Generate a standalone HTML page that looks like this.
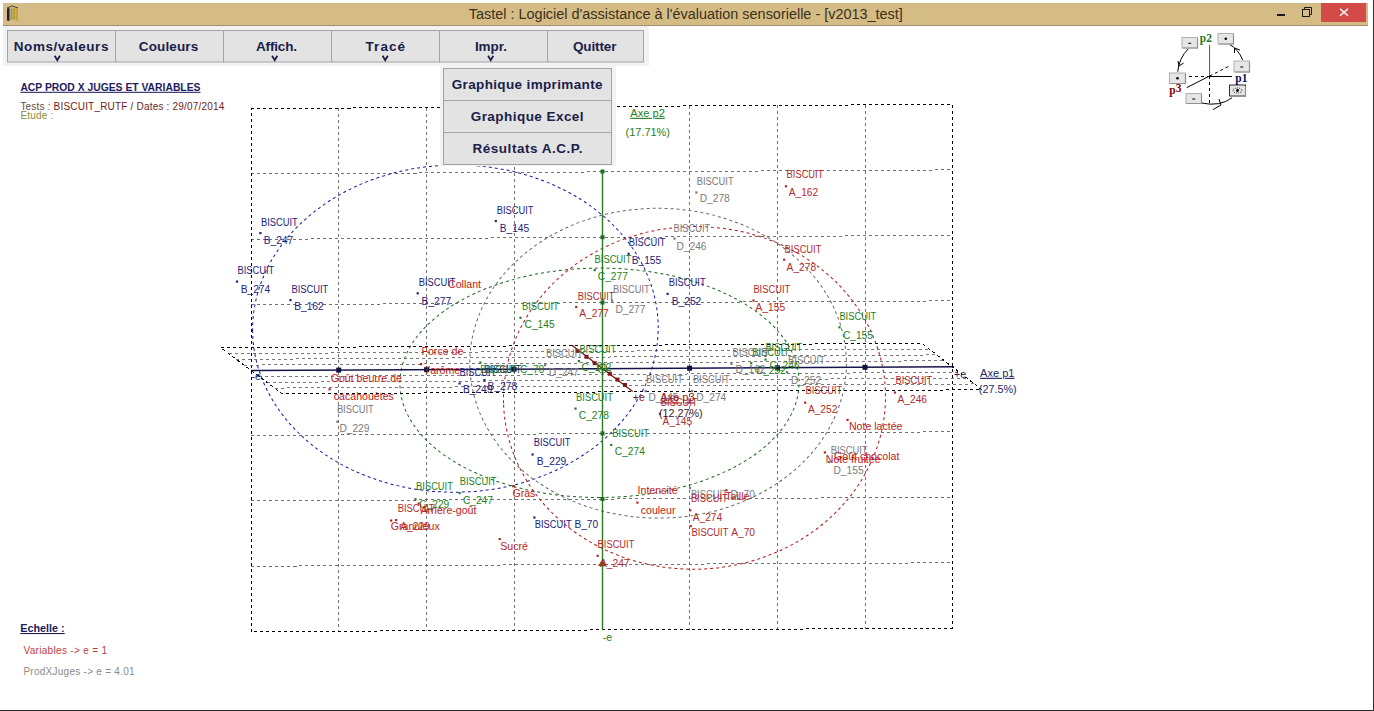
<!DOCTYPE html><html><head><meta charset="utf-8"><style>
html,body{margin:0;padding:0;background:#fff;overflow:hidden;width:1374px;height:711px}
svg{display:block}
text{white-space:pre}
</style></head><body>
<svg width="1374" height="711" viewBox="0 0 1374 711">
<rect x="0" y="0" width="1374" height="711" fill="#ffffff"/>
<g id="chart">
<g shape-rendering="crispEdges"><line x1="338.5" y1="108.08" x2="338.5" y2="631.19" stroke="#707070" stroke-width="1" stroke-dasharray="3,3"/><line x1="426.5" y1="107.55" x2="426.5" y2="630.78" stroke="#707070" stroke-width="1" stroke-dasharray="3,3"/><line x1="514.5" y1="107.02" x2="514.5" y2="630.36" stroke="#707070" stroke-width="1" stroke-dasharray="3,3"/><line x1="689.5" y1="105.98" x2="689.5" y2="629.54" stroke="#707070" stroke-width="1" stroke-dasharray="3,3"/><line x1="777.5" y1="105.45" x2="777.5" y2="629.12" stroke="#707070" stroke-width="1" stroke-dasharray="3,3"/><line x1="865.5" y1="104.92" x2="865.5" y2="628.71" stroke="#707070" stroke-width="1" stroke-dasharray="3,3"/><line x1="251.5" y1="173.97" x2="952.5" y2="169.89" stroke="#707070" stroke-width="1" stroke-dasharray="3,3"/><line x1="251.5" y1="239.35" x2="952.5" y2="235.38" stroke="#707070" stroke-width="1" stroke-dasharray="3,3"/><line x1="251.5" y1="304.73" x2="952.5" y2="300.86" stroke="#707070" stroke-width="1" stroke-dasharray="3,3"/><line x1="251.5" y1="435.48" x2="952.5" y2="431.84" stroke="#707070" stroke-width="1" stroke-dasharray="3,3"/><line x1="251.5" y1="500.85" x2="952.5" y2="497.33" stroke="#707070" stroke-width="1" stroke-dasharray="3,3"/><line x1="251.5" y1="566.23" x2="952.5" y2="562.81" stroke="#707070" stroke-width="1" stroke-dasharray="3,3"/><polygon points="251.5,108.60 952.5,104.40 952.5,628.30 251.5,631.60" fill="none" stroke="#000" stroke-width="1" stroke-dasharray="3,3"/></g>
<g shape-rendering="crispEdges"><line x1="228.7" y1="353.64" x2="929.4" y2="349.11" stroke="#7a7a7a" stroke-width="1" stroke-dasharray="3,3"/><line x1="236.3" y1="359.38" x2="936.9" y2="354.93" stroke="#7a7a7a" stroke-width="1" stroke-dasharray="3,3"/><line x1="243.9" y1="365.11" x2="944.4" y2="360.74" stroke="#7a7a7a" stroke-width="1" stroke-dasharray="3,3"/><line x1="259.2" y1="376.59" x2="959.4" y2="372.36" stroke="#7a7a7a" stroke-width="1" stroke-dasharray="3,3"/><line x1="266.9" y1="382.32" x2="966.9" y2="378.18" stroke="#7a7a7a" stroke-width="1" stroke-dasharray="3,3"/><line x1="274.6" y1="388.06" x2="974.4" y2="383.99" stroke="#7a7a7a" stroke-width="1" stroke-dasharray="3,3"/><polygon points="221.0,347.9 921.9,343.3 981.9,389.8 282.2,393.8" fill="none" stroke="#000" stroke-width="1" stroke-dasharray="3,3"/></g>
<ellipse cx="455.4" cy="328.6" rx="202.8" ry="163.6" transform="rotate(179.29 455.4 328.6)" fill="none" stroke="#1818a0" stroke-width="1" stroke-dasharray="3,3"/>
<ellipse cx="599.5" cy="382.8" rx="114.7" ry="199.6" transform="rotate(89.86 599.5 382.8)" fill="none" stroke="#1a661a" stroke-width="1" stroke-dasharray="3,3"/>
<ellipse cx="658.1" cy="363.2" rx="154.9" ry="188.3" transform="rotate(90.25 658.1 363.2)" fill="none" stroke="#666666" stroke-width="1" stroke-dasharray="3,3"/>
<ellipse cx="694.5" cy="397.9" rx="191.0" ry="171.3" transform="rotate(178.40 694.5 397.9)" fill="none" stroke="#b01818" stroke-width="1" stroke-dasharray="3,3"/>
<line x1="602.5" y1="171.5" x2="602.5" y2="630" stroke="#2a7a2a" stroke-width="1.4"/>
<line x1="251" y1="370.6" x2="954" y2="366.8" stroke="#15154a" stroke-width="1.5"/>
<line x1="571.9" y1="345.2" x2="632.7" y2="391.4" stroke="#7a1010" stroke-width="1.3"/>
<rect x="600.5" y="169.5" width="4" height="4" fill="#1f6e1f"/>
<rect x="600.5" y="235.2" width="4" height="4" fill="#1f6e1f"/>
<rect x="600.5" y="300.5" width="4" height="4" fill="#1f6e1f"/>
<rect x="600.5" y="431.4" width="4" height="4" fill="#1f6e1f"/>
<rect x="600.5" y="497.0" width="4" height="4" fill="#1f6e1f"/>
<rect x="600.5" y="562.3" width="4" height="4" fill="#1f6e1f"/>
<rect x="336.2" y="367.6" width="5" height="5" fill="#101040"/>
<rect x="424.1" y="367.2" width="5" height="5" fill="#101040"/>
<rect x="511.5" y="366.7" width="5" height="5" fill="#101040"/>
<rect x="687.1" y="365.7" width="5" height="5" fill="#101040"/>
<rect x="774.9" y="365.3" width="5" height="5" fill="#101040"/>
<rect x="862.5" y="364.8" width="5" height="5" fill="#101040"/>
<rect x="575.6" y="348.9" width="4" height="4" fill="#801818"/>
<rect x="584.5" y="354.8" width="4" height="4" fill="#801818"/>
<rect x="592.7" y="361.2" width="4" height="4" fill="#801818"/>
<rect x="607.9" y="371.7" width="4" height="4" fill="#801818"/>
<rect x="615.5" y="377.6" width="4" height="4" fill="#801818"/>
<rect x="623.0" y="383.0" width="4" height="4" fill="#801818"/>
<circle cx="602.5" cy="368.5" r="4.5" fill="none" stroke="#2a6a2a" stroke-width="1.2"/>
<path d="M598 368.5h9M602.5 364v9" stroke="#2a6a2a" stroke-width="1"/>
<path d="M602.3 559.5 L606.5 566 L598 566 Z" fill="#8a4a10"/>
<rect x="259.3" y="232.0" width="2.2" height="2.2" fill="#22227a"/>
<rect x="235.9" y="280.5" width="2.2" height="2.2" fill="#22227a"/>
<rect x="289.4" y="299.0" width="2.2" height="2.2" fill="#22227a"/>
<rect x="494.7" y="220.0" width="2.2" height="2.2" fill="#22227a"/>
<rect x="416.6" y="292.2" width="2.2" height="2.2" fill="#22227a"/>
<rect x="627.5" y="252.7" width="2.2" height="2.2" fill="#22227a"/>
<rect x="666.5" y="292.8" width="2.2" height="2.2" fill="#22227a"/>
<rect x="458.5" y="382.3" width="2.2" height="2.2" fill="#22227a"/>
<rect x="483.3" y="379.0" width="2.2" height="2.2" fill="#22227a"/>
<rect x="531.5" y="453.4" width="2.2" height="2.2" fill="#22227a"/>
<rect x="533.3" y="516.4" width="2.2" height="2.2" fill="#22227a"/>
<rect x="593.6" y="269.0" width="2.2" height="2.2" fill="#237f23"/>
<rect x="519.4" y="316.7" width="2.2" height="2.2" fill="#237f23"/>
<rect x="838.4" y="326.2" width="2.2" height="2.2" fill="#237f23"/>
<rect x="577.8" y="360.0" width="2.2" height="2.2" fill="#237f23"/>
<rect x="574.4" y="407.5" width="2.2" height="2.2" fill="#237f23"/>
<rect x="610.1" y="443.8" width="2.2" height="2.2" fill="#237f23"/>
<rect x="414.4" y="498.1" width="2.2" height="2.2" fill="#237f23"/>
<rect x="458.5" y="492.0" width="2.2" height="2.2" fill="#237f23"/>
<rect x="750.1" y="362.1" width="2.2" height="2.2" fill="#237f23"/>
<rect x="764.4" y="358.5" width="2.2" height="2.2" fill="#237f23"/>
<rect x="479.3" y="361.5" width="2.2" height="2.2" fill="#237f23"/>
<rect x="695.3" y="191.4" width="2.2" height="2.2" fill="#7a7a7a"/>
<rect x="673.4" y="237.5" width="2.2" height="2.2" fill="#7a7a7a"/>
<rect x="611.0" y="299.5" width="2.2" height="2.2" fill="#7a7a7a"/>
<rect x="336.3" y="420.6" width="2.2" height="2.2" fill="#7a7a7a"/>
<rect x="544.0" y="364.0" width="2.2" height="2.2" fill="#7a7a7a"/>
<rect x="730.4" y="362.7" width="2.2" height="2.2" fill="#7a7a7a"/>
<rect x="786.0" y="371.0" width="2.2" height="2.2" fill="#7a7a7a"/>
<rect x="644.5" y="390.0" width="2.2" height="2.2" fill="#7a7a7a"/>
<rect x="691.0" y="390.0" width="2.2" height="2.2" fill="#7a7a7a"/>
<rect x="828.0" y="461.0" width="2.2" height="2.2" fill="#7a7a7a"/>
<rect x="689.0" y="487.0" width="2.2" height="2.2" fill="#7a7a7a"/>
<rect x="784.8" y="185.2" width="2.2" height="2.2" fill="#b02a2a"/>
<rect x="783.1" y="258.6" width="2.2" height="2.2" fill="#b02a2a"/>
<rect x="752.4" y="299.5" width="2.2" height="2.2" fill="#b02a2a"/>
<rect x="575.1" y="305.9" width="2.2" height="2.2" fill="#b02a2a"/>
<rect x="893.9" y="391.5" width="2.2" height="2.2" fill="#b02a2a"/>
<rect x="804.1" y="401.6" width="2.2" height="2.2" fill="#b02a2a"/>
<rect x="689.1" y="509.2" width="2.2" height="2.2" fill="#b02a2a"/>
<rect x="596.6" y="554.7" width="2.2" height="2.2" fill="#b02a2a"/>
<rect x="395.0" y="519.0" width="2.2" height="2.2" fill="#b02a2a"/>
<rect x="689.6" y="525.0" width="2.2" height="2.2" fill="#b02a2a"/>
<rect x="420.0" y="363.0" width="2.2" height="2.2" fill="#c02020"/>
<rect x="328.5" y="388.2" width="2.2" height="2.2" fill="#c02020"/>
<rect x="636.3" y="501.5" width="2.2" height="2.2" fill="#c02020"/>
<rect x="417.6" y="502.5" width="2.2" height="2.2" fill="#c02020"/>
<rect x="390.0" y="519.5" width="2.2" height="2.2" fill="#c02020"/>
<rect x="512.1" y="485.1" width="2.2" height="2.2" fill="#c02020"/>
<rect x="498.6" y="538.0" width="2.2" height="2.2" fill="#c02020"/>
<rect x="725.3" y="489.1" width="2.2" height="2.2" fill="#c02020"/>
<rect x="846.4" y="418.8" width="2.2" height="2.2" fill="#c02020"/>
<rect x="823.8" y="451.3" width="2.2" height="2.2" fill="#c02020"/>
<rect x="658.8" y="412.7" width="2.2" height="2.2" fill="#b02a2a"/>
<text x="261.00" y="225.60" fill="#22227a" font-size="10" font-weight="normal" font-family="'Liberation Sans', sans-serif" textLength="36.8" lengthAdjust="spacingAndGlyphs">BISCUIT</text>
<text x="263.80" y="243.50" fill="#22227a" font-size="10.2" font-weight="normal" font-family="'Liberation Sans', sans-serif" >B_247</text>
<text x="237.50" y="273.60" fill="#22227a" font-size="10" font-weight="normal" font-family="'Liberation Sans', sans-serif" textLength="36.8" lengthAdjust="spacingAndGlyphs">BISCUIT</text>
<text x="240.70" y="292.70" fill="#22227a" font-size="10.2" font-weight="normal" font-family="'Liberation Sans', sans-serif" >B_274</text>
<text x="291.50" y="292.70" fill="#22227a" font-size="10" font-weight="normal" font-family="'Liberation Sans', sans-serif" textLength="36.8" lengthAdjust="spacingAndGlyphs">BISCUIT</text>
<text x="294.20" y="310.30" fill="#22227a" font-size="10.2" font-weight="normal" font-family="'Liberation Sans', sans-serif" >B_162</text>
<text x="496.70" y="213.80" fill="#22227a" font-size="10" font-weight="normal" font-family="'Liberation Sans', sans-serif" textLength="36.8" lengthAdjust="spacingAndGlyphs">BISCUIT</text>
<text x="499.70" y="232.30" fill="#22227a" font-size="10.2" font-weight="normal" font-family="'Liberation Sans', sans-serif" >B_145</text>
<text x="418.70" y="285.70" fill="#22227a" font-size="10" font-weight="normal" font-family="'Liberation Sans', sans-serif" textLength="36.8" lengthAdjust="spacingAndGlyphs">BISCUIT</text>
<text x="421.60" y="304.50" fill="#22227a" font-size="10.2" font-weight="normal" font-family="'Liberation Sans', sans-serif" >B_277</text>
<text x="628.70" y="246.40" fill="#22227a" font-size="10" font-weight="normal" font-family="'Liberation Sans', sans-serif" textLength="36.8" lengthAdjust="spacingAndGlyphs">BISCUIT</text>
<text x="631.70" y="264.40" fill="#22227a" font-size="10.2" font-weight="normal" font-family="'Liberation Sans', sans-serif" >B_155</text>
<text x="668.80" y="286.40" fill="#22227a" font-size="10" font-weight="normal" font-family="'Liberation Sans', sans-serif" textLength="36.8" lengthAdjust="spacingAndGlyphs">BISCUIT</text>
<text x="671.80" y="304.50" fill="#22227a" font-size="10.2" font-weight="normal" font-family="'Liberation Sans', sans-serif" >B_252</text>
<text x="459.50" y="375.80" fill="#22227a" font-size="10" font-weight="normal" font-family="'Liberation Sans', sans-serif" textLength="36.8" lengthAdjust="spacingAndGlyphs">BISCUIT</text>
<text x="462.90" y="392.90" fill="#22227a" font-size="10.2" font-weight="normal" font-family="'Liberation Sans', sans-serif" >B_249</text>
<text x="484.30" y="372.60" fill="#22227a" font-size="10" font-weight="normal" font-family="'Liberation Sans', sans-serif" textLength="36.8" lengthAdjust="spacingAndGlyphs">BISCUIT</text>
<text x="487.60" y="389.50" fill="#22227a" font-size="10.2" font-weight="normal" font-family="'Liberation Sans', sans-serif" >B_278</text>
<text x="533.70" y="446.30" fill="#22227a" font-size="10" font-weight="normal" font-family="'Liberation Sans', sans-serif" textLength="36.8" lengthAdjust="spacingAndGlyphs">BISCUIT</text>
<text x="536.80" y="464.90" fill="#22227a" font-size="10.2" font-weight="normal" font-family="'Liberation Sans', sans-serif" >B_229</text>
<text x="534.80" y="528.30" fill="#22227a" font-size="10" font-weight="normal" font-family="'Liberation Sans', sans-serif" textLength="36.8" lengthAdjust="spacingAndGlyphs">BISCUIT</text>
<text x="574.40" y="528.30" fill="#22227a" font-size="10.2" font-weight="normal" font-family="'Liberation Sans', sans-serif" >B_70</text>
<text x="594.60" y="262.80" fill="#237f23" font-size="10" font-weight="normal" font-family="'Liberation Sans', sans-serif" textLength="36.8" lengthAdjust="spacingAndGlyphs">BISCUIT</text>
<text x="597.80" y="280.40" fill="#237f23" font-size="10.2" font-weight="normal" font-family="'Liberation Sans', sans-serif" >C_277</text>
<text x="522.00" y="310.00" fill="#237f23" font-size="10" font-weight="normal" font-family="'Liberation Sans', sans-serif" textLength="36.8" lengthAdjust="spacingAndGlyphs">BISCUIT</text>
<text x="524.60" y="328.00" fill="#237f23" font-size="10.2" font-weight="normal" font-family="'Liberation Sans', sans-serif" >C_145</text>
<text x="839.40" y="319.50" fill="#237f23" font-size="10" font-weight="normal" font-family="'Liberation Sans', sans-serif" textLength="36.8" lengthAdjust="spacingAndGlyphs">BISCUIT</text>
<text x="842.90" y="339.40" fill="#237f23" font-size="10.2" font-weight="normal" font-family="'Liberation Sans', sans-serif" >C_155</text>
<text x="579.40" y="353.00" fill="#237f23" font-size="10" font-weight="normal" font-family="'Liberation Sans', sans-serif" textLength="36.8" lengthAdjust="spacingAndGlyphs">BISCUIT</text>
<text x="581.40" y="371.00" fill="#237f23" font-size="10.2" font-weight="normal" font-family="'Liberation Sans', sans-serif" >C_102</text>
<text x="576.10" y="401.10" fill="#237f23" font-size="10" font-weight="normal" font-family="'Liberation Sans', sans-serif" textLength="36.8" lengthAdjust="spacingAndGlyphs">BISCUIT</text>
<text x="578.80" y="419.10" fill="#237f23" font-size="10.2" font-weight="normal" font-family="'Liberation Sans', sans-serif" >C_278</text>
<text x="612.20" y="436.60" fill="#237f23" font-size="10" font-weight="normal" font-family="'Liberation Sans', sans-serif" textLength="36.8" lengthAdjust="spacingAndGlyphs">BISCUIT</text>
<text x="614.80" y="454.70" fill="#237f23" font-size="10.2" font-weight="normal" font-family="'Liberation Sans', sans-serif" >C_274</text>
<text x="416.10" y="490.30" fill="#237f23" font-size="10" font-weight="normal" font-family="'Liberation Sans', sans-serif" textLength="36.8" lengthAdjust="spacingAndGlyphs">BISCUIT</text>
<text x="419.20" y="508.00" fill="#237f23" font-size="10.2" font-weight="normal" font-family="'Liberation Sans', sans-serif" >C_229</text>
<text x="459.70" y="485.40" fill="#237f23" font-size="10" font-weight="normal" font-family="'Liberation Sans', sans-serif" textLength="36.8" lengthAdjust="spacingAndGlyphs">BISCUIT</text>
<text x="462.90" y="503.50" fill="#237f23" font-size="10.2" font-weight="normal" font-family="'Liberation Sans', sans-serif" >C_247</text>
<text x="752.30" y="355.90" fill="#237f23" font-size="10" font-weight="normal" font-family="'Liberation Sans', sans-serif" textLength="36.8" lengthAdjust="spacingAndGlyphs">BISCUIT</text>
<text x="755.90" y="373.90" fill="#237f23" font-size="10.2" font-weight="normal" font-family="'Liberation Sans', sans-serif" >C_252</text>
<text x="765.40" y="351.10" fill="#237f23" font-size="10" font-weight="normal" font-family="'Liberation Sans', sans-serif" textLength="36.8" lengthAdjust="spacingAndGlyphs">BISCUIT</text>
<text x="769.60" y="369.00" fill="#237f23" font-size="10.2" font-weight="normal" font-family="'Liberation Sans', sans-serif" >C_246</text>
<text x="480.30" y="372.60" fill="#237f23" font-size="10" font-weight="normal" font-family="'Liberation Sans', sans-serif" textLength="36.8" lengthAdjust="spacingAndGlyphs">BISCUIT</text>
<text x="519.90" y="372.60" fill="#237f23" font-size="10.2" font-weight="normal" font-family="'Liberation Sans', sans-serif" >C_70</text>
<text x="696.80" y="184.50" fill="#7a7a7a" font-size="10" font-weight="normal" font-family="'Liberation Sans', sans-serif" textLength="36.8" lengthAdjust="spacingAndGlyphs">BISCUIT</text>
<text x="699.70" y="202.20" fill="#7a7a7a" font-size="10.2" font-weight="normal" font-family="'Liberation Sans', sans-serif" >D_278</text>
<text x="673.50" y="231.80" fill="#7a7a7a" font-size="10" font-weight="normal" font-family="'Liberation Sans', sans-serif" textLength="36.8" lengthAdjust="spacingAndGlyphs">BISCUIT</text>
<text x="676.50" y="249.50" fill="#7a7a7a" font-size="10.2" font-weight="normal" font-family="'Liberation Sans', sans-serif" >D_246</text>
<text x="613.00" y="293.10" fill="#7a7a7a" font-size="10" font-weight="normal" font-family="'Liberation Sans', sans-serif" textLength="36.8" lengthAdjust="spacingAndGlyphs">BISCUIT</text>
<text x="615.40" y="312.50" fill="#7a7a7a" font-size="10.2" font-weight="normal" font-family="'Liberation Sans', sans-serif" >D_277</text>
<text x="336.90" y="413.20" fill="#7a7a7a" font-size="10" font-weight="normal" font-family="'Liberation Sans', sans-serif" textLength="36.8" lengthAdjust="spacingAndGlyphs">BISCUIT</text>
<text x="339.40" y="432.20" fill="#7a7a7a" font-size="10.2" font-weight="normal" font-family="'Liberation Sans', sans-serif" >D_229</text>
<text x="546.00" y="357.00" fill="#7a7a7a" font-size="10" font-weight="normal" font-family="'Liberation Sans', sans-serif" textLength="36.8" lengthAdjust="spacingAndGlyphs">BISCUIT</text>
<text x="548.70" y="375.70" fill="#7a7a7a" font-size="10.2" font-weight="normal" font-family="'Liberation Sans', sans-serif" >D_247</text>
<text x="732.60" y="355.90" fill="#7a7a7a" font-size="10" font-weight="normal" font-family="'Liberation Sans', sans-serif" textLength="36.8" lengthAdjust="spacingAndGlyphs">BISCUIT</text>
<text x="735.50" y="373.30" fill="#7a7a7a" font-size="10.2" font-weight="normal" font-family="'Liberation Sans', sans-serif" >D_162</text>
<text x="788.10" y="364.30" fill="#7a7a7a" font-size="10" font-weight="normal" font-family="'Liberation Sans', sans-serif" textLength="36.8" lengthAdjust="spacingAndGlyphs">BISCUIT</text>
<text x="791.10" y="384.00" fill="#7a7a7a" font-size="10.2" font-weight="normal" font-family="'Liberation Sans', sans-serif" >D_252</text>
<text x="646.10" y="383.40" fill="#7a7a7a" font-size="10" font-weight="normal" font-family="'Liberation Sans', sans-serif" textLength="36.8" lengthAdjust="spacingAndGlyphs">BISCUIT</text>
<text x="648.40" y="401.40" fill="#7a7a7a" font-size="10.2" font-weight="normal" font-family="'Liberation Sans', sans-serif" >D_145</text>
<text x="692.90" y="383.40" fill="#7a7a7a" font-size="10" font-weight="normal" font-family="'Liberation Sans', sans-serif" textLength="36.8" lengthAdjust="spacingAndGlyphs">BISCUIT</text>
<text x="696.20" y="401.40" fill="#7a7a7a" font-size="10.2" font-weight="normal" font-family="'Liberation Sans', sans-serif" >D_274</text>
<text x="830.70" y="454.30" fill="#7a7a7a" font-size="10" font-weight="normal" font-family="'Liberation Sans', sans-serif" textLength="36.8" lengthAdjust="spacingAndGlyphs">BISCUIT</text>
<text x="833.60" y="474.00" fill="#7a7a7a" font-size="10.2" font-weight="normal" font-family="'Liberation Sans', sans-serif" >D_155</text>
<text x="690.90" y="497.90" fill="#7a7a7a" font-size="10" font-weight="normal" font-family="'Liberation Sans', sans-serif" textLength="36.8" lengthAdjust="spacingAndGlyphs">BISCUIT</text>
<text x="730.50" y="497.90" fill="#7a7a7a" font-size="10.2" font-weight="normal" font-family="'Liberation Sans', sans-serif" >D_70</text>
<text x="786.60" y="178.20" fill="#b02a2a" font-size="10" font-weight="normal" font-family="'Liberation Sans', sans-serif" textLength="36.8" lengthAdjust="spacingAndGlyphs">BISCUIT</text>
<text x="788.70" y="196.30" fill="#b02a2a" font-size="10.2" font-weight="normal" font-family="'Liberation Sans', sans-serif" >A_162</text>
<text x="784.60" y="252.50" fill="#b02a2a" font-size="10" font-weight="normal" font-family="'Liberation Sans', sans-serif" textLength="36.8" lengthAdjust="spacingAndGlyphs">BISCUIT</text>
<text x="786.60" y="270.60" fill="#b02a2a" font-size="10.2" font-weight="normal" font-family="'Liberation Sans', sans-serif" >A_278</text>
<text x="753.40" y="292.60" fill="#b02a2a" font-size="10" font-weight="normal" font-family="'Liberation Sans', sans-serif" textLength="36.8" lengthAdjust="spacingAndGlyphs">BISCUIT</text>
<text x="755.60" y="310.60" fill="#b02a2a" font-size="10.2" font-weight="normal" font-family="'Liberation Sans', sans-serif" >A_155</text>
<text x="577.70" y="299.70" fill="#b02a2a" font-size="10" font-weight="normal" font-family="'Liberation Sans', sans-serif" textLength="36.8" lengthAdjust="spacingAndGlyphs">BISCUIT</text>
<text x="579.30" y="317.30" fill="#b02a2a" font-size="10.2" font-weight="normal" font-family="'Liberation Sans', sans-serif" >A_277</text>
<text x="895.50" y="383.70" fill="#b02a2a" font-size="10" font-weight="normal" font-family="'Liberation Sans', sans-serif" textLength="36.8" lengthAdjust="spacingAndGlyphs">BISCUIT</text>
<text x="897.50" y="402.70" fill="#b02a2a" font-size="10.2" font-weight="normal" font-family="'Liberation Sans', sans-serif" >A_246</text>
<text x="805.50" y="394.20" fill="#b02a2a" font-size="10" font-weight="normal" font-family="'Liberation Sans', sans-serif" textLength="36.8" lengthAdjust="spacingAndGlyphs">BISCUIT</text>
<text x="807.90" y="412.70" fill="#b02a2a" font-size="10.2" font-weight="normal" font-family="'Liberation Sans', sans-serif" >A_252</text>
<text x="690.90" y="502.30" fill="#b02a2a" font-size="10" font-weight="normal" font-family="'Liberation Sans', sans-serif" textLength="36.8" lengthAdjust="spacingAndGlyphs">BISCUIT</text>
<text x="692.70" y="521.40" fill="#b02a2a" font-size="10.2" font-weight="normal" font-family="'Liberation Sans', sans-serif" >A_274</text>
<text x="597.60" y="548.30" fill="#b02a2a" font-size="10" font-weight="normal" font-family="'Liberation Sans', sans-serif" textLength="36.8" lengthAdjust="spacingAndGlyphs">BISCUIT</text>
<text x="600.00" y="566.60" fill="#b02a2a" font-size="10.2" font-weight="normal" font-family="'Liberation Sans', sans-serif" >A_247</text>
<text x="397.70" y="512.40" fill="#b02a2a" font-size="10" font-weight="normal" font-family="'Liberation Sans', sans-serif" textLength="36.8" lengthAdjust="spacingAndGlyphs">BISCUIT</text>
<text x="400.30" y="530.10" fill="#b02a2a" font-size="10.2" font-weight="normal" font-family="'Liberation Sans', sans-serif" >A_229</text>
<text x="691.60" y="536.10" fill="#b02a2a" font-size="10" font-weight="normal" font-family="'Liberation Sans', sans-serif" textLength="36.8" lengthAdjust="spacingAndGlyphs">BISCUIT</text>
<text x="731.20" y="536.10" fill="#b02a2a" font-size="10.2" font-weight="normal" font-family="'Liberation Sans', sans-serif" >A_70</text>
<text x="421.50" y="355.30" fill="#c02020" font-size="10.6" font-weight="normal" font-family="'Liberation Sans', sans-serif" >Force de</text>
<text x="425.80" y="374.30" fill="#c02020" font-size="10.6" font-weight="normal" font-family="'Liberation Sans', sans-serif" >l'arôme</text>
<text x="330.70" y="382.20" fill="#c02020" font-size="10.6" font-weight="normal" font-family="'Liberation Sans', sans-serif" >Goût beurre de</text>
<text x="333.80" y="400.20" fill="#c02020" font-size="10.6" font-weight="normal" font-family="'Liberation Sans', sans-serif" >cacahouètes</text>
<text x="637.60" y="494.40" fill="#c02020" font-size="10.6" font-weight="normal" font-family="'Liberation Sans', sans-serif" >Intensité</text>
<text x="640.70" y="513.50" fill="#c02020" font-size="10.6" font-weight="normal" font-family="'Liberation Sans', sans-serif" >couleur</text>
<text x="448.00" y="288.40" fill="#c02020" font-size="10.6" font-weight="normal" font-family="'Liberation Sans', sans-serif" >Collant</text>
<text x="420.50" y="514.30" fill="#c02020" font-size="10.6" font-weight="normal" font-family="'Liberation Sans', sans-serif" >Arrière-goût</text>
<text x="390.80" y="530.10" fill="#c02020" font-size="10.6" font-weight="normal" font-family="'Liberation Sans', sans-serif" >Granuleux</text>
<text x="512.40" y="496.50" fill="#c02020" font-size="10.6" font-weight="normal" font-family="'Liberation Sans', sans-serif" >Gras</text>
<text x="500.30" y="549.70" fill="#c02020" font-size="10.6" font-weight="normal" font-family="'Liberation Sans', sans-serif" >Sucré</text>
<text x="725.30" y="500.00" fill="#c02020" font-size="10.6" font-weight="normal" font-family="'Liberation Sans', sans-serif" >Taille</text>
<text x="848.90" y="430.20" fill="#c02020" font-size="10.6" font-weight="normal" font-family="'Liberation Sans', sans-serif" >Note lactée</text>
<text x="834.00" y="460.20" fill="#c02020" font-size="10.6" font-weight="normal" font-family="'Liberation Sans', sans-serif" >Goût chocolat</text>
<text x="825.80" y="462.70" fill="#c02020" font-size="10.6" font-weight="normal" font-family="'Liberation Sans', sans-serif" >Note fruitée</text>
<text x="660.70" y="406.20" fill="#b02a2a" font-size="10" font-weight="normal" font-family="'Liberation Sans', sans-serif" textLength="36.8" lengthAdjust="spacingAndGlyphs">BISCUIT</text>
<text x="662.60" y="425.10" fill="#b02a2a" font-size="10.2" font-weight="normal" font-family="'Liberation Sans', sans-serif" >A_145</text>
<text x="630.30" y="116.80" fill="#237f23" font-size="11.1" font-weight="normal" font-family="'Liberation Sans', sans-serif" text-decoration="underline">Axe p2</text>
<text x="625.60" y="135.80" fill="#237f23" font-size="10.95" font-weight="normal" font-family="'Liberation Sans', sans-serif" >(17.71%)</text>
<text x="980.00" y="376.80" fill="#1f1f6b" font-size="11.1" font-weight="normal" font-family="'Liberation Sans', sans-serif" text-decoration="underline">Axe p1</text>
<text x="978.80" y="392.50" fill="#1f1f6b" font-size="10.8" font-weight="normal" font-family="'Liberation Sans', sans-serif" >(27.5%)</text>
<text x="660.30" y="401.40" fill="#9a1a1a" font-size="11" font-weight="normal" font-family="'Liberation Sans', sans-serif" text-decoration="underline">Axe p3</text>
<text x="658.90" y="417.00" fill="#3a2020" font-size="10.8" font-weight="normal" font-family="'Liberation Sans', sans-serif" >(12.27%)</text>
<text x="954.00" y="378.00" fill="#1f1f6b" font-size="10.5" font-weight="normal" font-family="'Liberation Sans', sans-serif" >+e</text>
<text x="251.50" y="380.20" fill="#1f1f6b" font-size="10.5" font-weight="normal" font-family="'Liberation Sans', sans-serif" >-e</text>
<text x="632.80" y="401.40" fill="#7a1010" font-size="10.5" font-weight="normal" font-family="'Liberation Sans', sans-serif" >+e</text>
<text x="602.70" y="640.70" fill="#237f23" font-size="10.5" font-weight="normal" font-family="'Liberation Sans', sans-serif" >-e</text>
</g>
<rect x="3" y="3" width="1365" height="22" fill="#d5bc84"/>
<rect x="3" y="25" width="1365" height="1" fill="#a09270"/>
<rect x="3" y="3" width="1365" height="1" fill="#c8bc8e"/>
<text x="468.80" y="19.30" fill="#3a3020" font-size="14.45" font-weight="normal" font-family="'Liberation Sans', sans-serif" >Tastel : Logiciel d'assistance à l'évaluation sensorielle - [v2013_test]</text>
<rect x="7" y="8" width="2.5" height="13" rx="1.2" fill="#2a1a3a"/><rect x="10.5" y="8" width="2" height="12" rx="1" fill="#8aa060"/><rect x="13.3" y="8" width="2" height="12" rx="1" fill="#b89a20"/><rect x="16" y="8" width="2" height="13" rx="1" fill="#c8a040"/><path d="M7 8 L12 6 L18 8" stroke="#404040" stroke-width="1" fill="none"/>
<rect x="1277" y="14" width="8" height="2" fill="#1a1a1a"/>
<rect x="1302.5" y="9.5" width="7" height="7" fill="none" stroke="#1a1a1a" stroke-width="1"/><path d="M1304.5 9.5 V7.5 H1311.5 V14.5 H1309.5" fill="none" stroke="#1a1a1a" stroke-width="1"/>
<rect x="1321" y="3" width="45" height="19" fill="#d24b48"/>
<path d="M1340 8.8 L1348 15.8 M1348 8.8 L1340 15.8" stroke="#fff" stroke-width="1.5"/>
<rect x="1373" y="0" width="1" height="711" fill="#2e2e2e"/>
<rect x="0" y="710" width="1374" height="1" fill="#2e2e2e"/>
<rect x="3" y="26" width="646" height="40" fill="#f2f2f2"/>
<rect x="7.5" y="30.5" width="108.0" height="31.5" fill="#e3e3e3" stroke="#a3a3a3" stroke-width="1"/>
<text x="13.80" y="50.70" fill="#1a2048" font-size="13.5" font-weight="bold" font-family="'Liberation Sans', sans-serif" textLength="94.6" lengthAdjust="spacing">Noms/valeurs</text>
<path d="M54.7 55.8 L57.3 60.2 L59.9 55.8" fill="none" stroke="#1a2048" stroke-width="1.8"/>
<rect x="115.5" y="30.5" width="108.0" height="31.5" fill="#e3e3e3" stroke="#a3a3a3" stroke-width="1"/>
<text x="138.80" y="50.70" fill="#1a2048" font-size="13.5" font-weight="bold" font-family="'Liberation Sans', sans-serif" textLength="59.4" lengthAdjust="spacing">Couleurs</text>
<rect x="223.5" y="30.5" width="108.0" height="31.5" fill="#e3e3e3" stroke="#a3a3a3" stroke-width="1"/>
<text x="256.00" y="50.70" fill="#1a2048" font-size="13.5" font-weight="bold" font-family="'Liberation Sans', sans-serif" textLength="41" lengthAdjust="spacing">Affich.</text>
<path d="M272.1 55.8 L274.7 60.2 L277.3 55.8" fill="none" stroke="#1a2048" stroke-width="1.8"/>
<rect x="331.5" y="30.5" width="108.0" height="31.5" fill="#e3e3e3" stroke="#a3a3a3" stroke-width="1"/>
<text x="365.50" y="50.70" fill="#1a2048" font-size="13.5" font-weight="bold" font-family="'Liberation Sans', sans-serif" textLength="39.6" lengthAdjust="spacing">Tracé</text>
<path d="M382.6 55.8 L385.2 60.2 L387.8 55.8" fill="none" stroke="#1a2048" stroke-width="1.8"/>
<rect x="439.5" y="30.5" width="108.0" height="31.5" fill="#e3e3e3" stroke="#a3a3a3" stroke-width="1"/>
<text x="474.90" y="50.70" fill="#1a2048" font-size="13.5" font-weight="bold" font-family="'Liberation Sans', sans-serif" textLength="32.1" lengthAdjust="spacing">Impr.</text>
<path d="M488.1 55.8 L490.7 60.2 L493.3 55.8" fill="none" stroke="#1a2048" stroke-width="1.8"/>
<rect x="547.5" y="30.5" width="96.0" height="31.5" fill="#e3e3e3" stroke="#a3a3a3" stroke-width="1"/>
<text x="572.90" y="50.70" fill="#1a2048" font-size="13.5" font-weight="bold" font-family="'Liberation Sans', sans-serif" textLength="43.6" lengthAdjust="spacing">Quitter</text>
<rect x="440" y="65" width="176" height="101" fill="#f2f2f2"/>
<rect x="443.5" y="68.5" width="168" height="32.0" fill="#e3e3e3" stroke="#a3a3a3" stroke-width="1"/>
<text x="451.70" y="88.90" fill="#1a2048" font-size="13.5" font-weight="bold" font-family="'Liberation Sans', sans-serif" textLength="150.8" lengthAdjust="spacing">Graphique imprimante</text>
<rect x="443.5" y="100.5" width="168" height="32.0" fill="#e3e3e3" stroke="#a3a3a3" stroke-width="1"/>
<text x="470.70" y="120.60" fill="#1a2048" font-size="13.5" font-weight="bold" font-family="'Liberation Sans', sans-serif" textLength="112.9" lengthAdjust="spacing">Graphique Excel</text>
<rect x="443.5" y="132.5" width="168" height="32.0" fill="#e3e3e3" stroke="#a3a3a3" stroke-width="1"/>
<text x="472.50" y="152.80" fill="#1a2048" font-size="13.5" font-weight="bold" font-family="'Liberation Sans', sans-serif" textLength="109.9" lengthAdjust="spacing">Résultats A.C.P.</text>
<text x="20.40" y="90.80" fill="#1c1c5c" font-size="10.35" font-weight="bold" font-family="'Liberation Sans', sans-serif" text-decoration="underline">ACP PROD X JUGES ET VARIABLES</text>
<text x="20.4" y="109.6" font-size="10" font-family="'Liberation Sans', sans-serif" textLength="203.9" lengthAdjust="spacing"><tspan fill="#6a4a3a">Tests : </tspan><tspan fill="#6a1e1e">BISCUIT_RUTF / Dates : 29/07/2014</tspan></text>
<text x="20.40" y="118.80" fill="#8a8a3a" font-size="10" font-weight="normal" font-family="'Liberation Sans', sans-serif" textLength="33" lengthAdjust="spacing">Etude :</text>
<text x="20.30" y="632.00" fill="#1c1c5c" font-size="10.8" font-weight="bold" font-family="'Liberation Sans', sans-serif" text-decoration="underline">Echelle :</text>
<text x="23.40" y="653.90" fill="#c04040" font-size="10" font-weight="normal" font-family="'Liberation Sans', sans-serif" textLength="83.6" lengthAdjust="spacing">Variables -&gt; e = 1</text>
<text x="23.40" y="674.60" fill="#8a8a8a" font-size="10" font-weight="normal" font-family="'Liberation Sans', sans-serif" textLength="111.2" lengthAdjust="spacing">ProdXJuges -&gt; e = 4.01</text>
<g>
<line x1="1209.6" y1="45" x2="1209.6" y2="76" stroke="#2a7a2a" stroke-width="1"/>
<line x1="1209.6" y1="76.5" x2="1232" y2="76.5" stroke="#000" stroke-width="1"/>
<line x1="1189" y1="76.5" x2="1209.6" y2="76.5" stroke="#000" stroke-width="1" stroke-dasharray="3,3"/>
<line x1="1209.5" y1="76" x2="1209.5" y2="103.5" stroke="#000" stroke-width="1" stroke-dasharray="3,3"/>
<line x1="1209.6" y1="76" x2="1186.6" y2="87.7" stroke="#000" stroke-width="1"/>
<line x1="1209.6" y1="76" x2="1229.7" y2="65.8" stroke="#000" stroke-width="1" stroke-dasharray="3,3"/>
<path d="M1188.4 48.7 Q1179 58 1177.7 71.7" stroke="#000" fill="none" stroke-width="1"/><path d="M1178 61 L1179 66 L1183.5 63" stroke="#000" fill="none" stroke-width="1"/>
<path d="M1242.7 59.9 Q1238 49 1229.7 44.5" stroke="#000" fill="none" stroke-width="1"/><path d="M1234.5 48 L1234.5 53 M1234.5 48 L1240 50" stroke="#000" fill="none" stroke-width="1"/>
<path d="M1201.4 103 Q1220 107 1232.1 97.7" stroke="#000" fill="none" stroke-width="1"/><path d="M1219 99 L1221 105 L1213 109.6" stroke="#000" fill="none" stroke-width="1"/>
<rect x="1182" y="37.5" width="15.5" height="10.5" fill="#e6e6e6" stroke="#b0b0b0" stroke-width="1"/><path d="M1197.5 38.5 V48 H1183" stroke="#909090" stroke-width="1.2" fill="none"/><rect x="1188.2" y="42.8" width="3" height="1" fill="#000"/>
<rect x="1218" y="33.5" width="15.5" height="10.5" fill="#e6e6e6" stroke="#b0b0b0" stroke-width="1"/><path d="M1233.5 34.5 V44 H1219" stroke="#909090" stroke-width="1.2" fill="none"/><circle cx="1225.8" cy="38.8" r="1.3" fill="#000"/>
<rect x="1234" y="61" width="15.5" height="11" fill="#e6e6e6" stroke="#b0b0b0" stroke-width="1"/><path d="M1249.5 62 V72 H1235" stroke="#909090" stroke-width="1.2" fill="none"/><rect x="1240.2" y="66.5" width="3" height="1" fill="#000"/>
<rect x="1169.5" y="73" width="16.0" height="10.5" fill="#e6e6e6" stroke="#b0b0b0" stroke-width="1"/><path d="M1185.5 74 V83.5 H1170.5" stroke="#909090" stroke-width="1.2" fill="none"/><circle cx="1177.5" cy="78.2" r="1.3" fill="#000"/>
<rect x="1186" y="93.5" width="15.5" height="10.0" fill="#e6e6e6" stroke="#b0b0b0" stroke-width="1"/><path d="M1201.5 94.5 V103.5 H1187" stroke="#909090" stroke-width="1.2" fill="none"/><rect x="1192.2" y="98.5" width="3" height="1" fill="#000"/>
<rect x="1229.5" y="85" width="16.0" height="11" fill="#e6e6e6" stroke="#303030" stroke-width="1"/><path d="M1245.5 86 V96 H1230.5" stroke="#909090" stroke-width="1.2" fill="none"/><ellipse cx="1237.5" cy="90.5" rx="4.5" ry="2.5" fill="none" stroke="#000" stroke-width="0.8" stroke-dasharray="1,1"/><circle cx="1237.5" cy="90.5" r="1.4" fill="#000"/>
<text x="1199.8" y="42.3" fill="#1f7a1f" font-size="11.5" font-weight="bold" font-family="'Liberation Serif', serif">p2</text>
<text x="1235.3" y="81.8" fill="#101050" font-size="11.5" font-weight="bold" font-family="'Liberation Serif', serif">p1</text>
<text x="1169.3" y="94.4" fill="#7a0a0a" font-size="11.5" font-weight="bold" font-family="'Liberation Serif', serif">p<tspan dy="-2">3</tspan></text>
</g>
</svg></body></html>
